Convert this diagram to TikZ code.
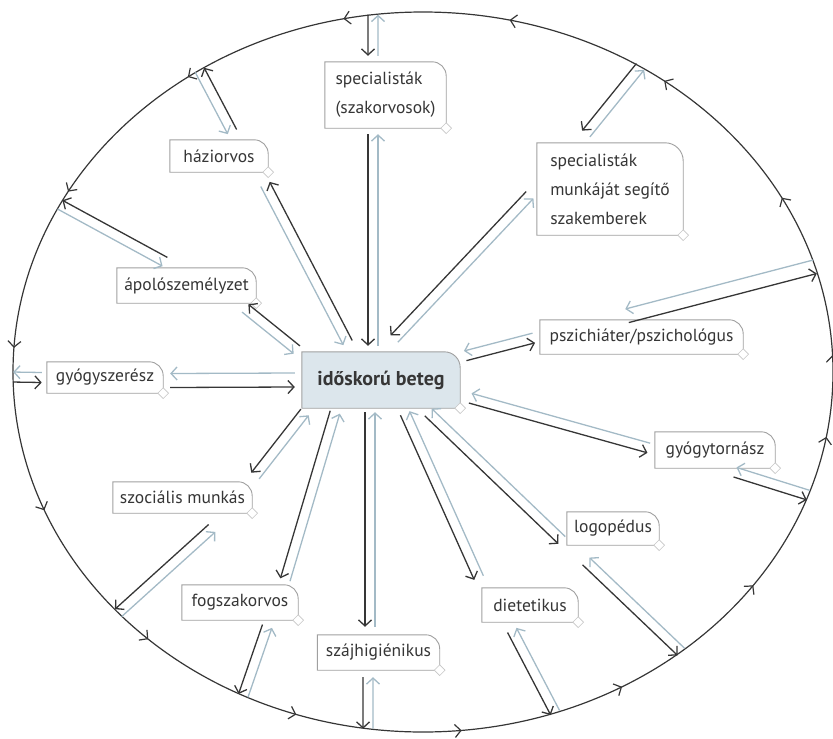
\documentclass[tikz,border=0pt]{standalone}
\usepackage{fontspec}
\setmainfont{PT Sans}
\usetikzlibrary{calc,arrows.meta,shapes.geometric,backgrounds,decorations.markings}

\definecolor{inkdark}{HTML}{363636}
\definecolor{inklight}{HTML}{A3BAC6}
\definecolor{framegray}{HTML}{A0A0A0}
\definecolor{patientfill}{HTML}{DCE6EC}

\tikzset{
  box/.style={inner sep=0pt, text=inkdark, font=\fontsize{17.5}{29}\selectfont, align=left},
  frame/.style={draw=framegray, line width=0.9pt, fill=white},
  tag/.style={diamond, draw=framegray!60, fill=white, line width=0.6pt, minimum size=11pt, inner sep=0pt},
  dk/.style={draw=inkdark, line width=1.3pt, -{Straight Barb[length=6pt,width=13pt]}},
  lt/.style={draw=inklight, line width=1.3pt, -{Straight Barb[length=6pt,width=13pt]}},
  ring/.style={draw=inkdark, line width=1.2pt, postaction={decorate},
    decoration={markings, mark=between positions 0.007 and 1 step 0.069 with {\arrow{Straight Barb[length=6pt,width=13pt]}}}}
}

% dark arrow #2 -> #3, light arrow back, each on its own right side
\newcommand\twoway[3][5]{%
  \draw[dk] ($(#2)!#1pt!-90:(#3)$) -- ($(#3)!#1pt!90:(#2)$);
  \draw[lt] ($(#3)!#1pt!-90:(#2)$) -- ($(#2)!#1pt!90:(#3)$);
}

\begin{document}
\begin{tikzpicture}[x=1pt,y=-1pt]
\useasboundingbox (0,0) rectangle (833,739);

\coordinate (o) at (423,372);
\draw[ring] (o) ++(410,0) arc[start angle=0,end angle=-360,x radius=410,y radius=360];

\node[box,font=\fontsize{20}{24}\selectfont\bfseries,minimum width=158pt,minimum height=56pt] (beteg) at (381,380) {időskorú beteg};

\node[box,minimum width=121pt,minimum height=66pt] (spec) at (385.5,95) {specialisták\\(szakorvosok)};
\node[box,minimum width=98pt,minimum height=32pt] (hazi) at (219,156) {háziorvos};
\node[box,minimum width=146pt,minimum height=92pt] (segito) at (610,189) {specialisták\\munkáját segítő\\szakemberek};
\node[box,minimum width=139pt,minimum height=35pt] (apolo) at (186.5,285.5) {ápolószemélyzet};
\node[box,minimum width=203pt,minimum height=34pt] (pszi) at (641.5,337) {pszichiáter/pszichológus};
\node[box,minimum width=116pt,minimum height=31pt] (gyszer) at (105,377.5) {gyógyszerész};
\node[box,minimum width=120pt,minimum height=36pt] (torna) at (715,450) {gyógytornász};
\node[box,minimum width=139pt,minimum height=31pt] (szoc) at (182.5,497.5) {szociális munkás};
\node[box,minimum width=92pt,minimum height=33pt] (logo) at (613,528.5) {logopédus};
\node[box,minimum width=116pt,minimum height=35pt] (fog) at (240,602.5) {fogszakorvos};
\node[box,minimum width=96pt,minimum height=34pt] (diet) at (530,605) {dietetikus};
\node[box,minimum width=122pt,minimum height=35pt] (szaj) at (378.5,652.5) {szájhigiénikus};

\begin{scope}[on background layer]
\draw[frame,fill=patientfill] (beteg.south east) -- (beteg.south west) -- (beteg.north west) -- ([xshift=-16pt]beteg.north east)
  .. controls ([xshift=-7pt]beteg.north east) and ([yshift=-7pt]beteg.north east) .. ([yshift=-16pt]beteg.north east) -- cycle;
\node[tag] (beteg-tag) at (beteg.south east) {};
\foreach \n/\rad in {spec/14,hazi/14,segito/18,apolo/14,pszi/14,gyszer/14,torna/14,szoc/14,logo/14,fog/14,diet/14,szaj/14} {
  \draw[frame] (\n.south east) -- (\n.south west) -- (\n.north west) -- ([xshift=-\rad pt]\n.north east)
    .. controls ([xshift=-0.45*\rad pt]\n.north east) and ([yshift=-0.45*\rad pt]\n.north east) .. ([yshift=-\rad pt]\n.north east) -- cycle;
  \node[tag] (\n-tag) at (\n.south east) {};
}
\end{scope}

\coordinate (rim-spec) at ($(o)+(-97:410 and 360)$);
\coordinate (rim-hazi) at ($(o)+(-123:410 and 360)$);
\coordinate (rim-segito) at ($(o)+(-58:410 and 360)$);
\coordinate (rim-apolo) at ($(o)+(-152.3:410 and 360)$);
\coordinate (rim-gyszer) at ($(o)+(-180.8:410 and 360)$);
\coordinate (rim-pszi) at ($(o)+(-17:410 and 360)$);
\coordinate (rim-torna) at ($(o)+(20:410 and 360)$);
\coordinate (rim-szoc) at ($(o)+(-222:410 and 360)$);
\coordinate (rim-fog) at ($(o)+(-244:410 and 360)$);
\coordinate (rim-szaj) at ($(o)+(-262.3:410 and 360)$);
\coordinate (rim-diet) at ($(o)+(-288.8:410 and 360)$);
\coordinate (rim-logo) at ($(o)+(-309:410 and 360)$);

% inward
\twoway{[shift={(-12.5,6)}]spec.south}{[shift={(-8,-6)}]beteg.north}
\twoway{rim-spec}{[shift={(-12.5,-6)}]spec.north}
\twoway{[shift={(-7,6)}]segito.west}{[shift={(-66,-13)}]beteg.north east}
\twoway{rim-segito}{[shift={(-24,-9)}]segito.north}
\twoway[7]{[shift={(7,3)}]gyszer.east}{[shift={(-7,0)}]beteg.west}
\twoway{rim-gyszer}{[shift={(-5,0)}]gyszer.west}

% outward
\twoway{[shift={(46,-9)}]beteg.north west}{[shift={(-3,12)}]hazi.south east}
\twoway{[shift={(-36,-8)}]hazi.north east}{rim-hazi}
\twoway{[shift={(-5,-2)}]beteg.north west}{[shift={(-11,5)}]apolo.south east}
\twoway{[shift={(-21.5,-6)}]apolo.north}{rim-apolo}
\twoway{[shift={(5,4)}]beteg.north east}{[shift={(-6,1)}]pszi.west}
\twoway[7]{[shift={(-14.5,-4)}]pszi.north}{rim-pszi}
\twoway{[shift={(10,-10)}]beteg.south east}{[shift={(-6,-2)}]torna.west}
\twoway{[shift={(20,4)}]torna.south}{rim-torna}
\twoway{[shift={(3,4)}]beteg.south west}{[shift={(3,-6)}]szoc.north east}
\twoway{[shift={(29.5,15)}]szoc.south}{rim-szoc}
\twoway{[shift={(-46,4)}]beteg.south}{[shift={(-13,-5)}]fog.north east}
\twoway{[shift={(-31,6)}]fog.south east}{rim-fog}
\twoway{[shift={(-11,4)}]beteg.south}{[shift={(-8.5,-8)}]szaj.north}
\twoway{[shift={(-10.5,7)}]szaj.south}{rim-szaj}
\twoway{[shift={(24,5)}]beteg.south}{[shift={(-3,-10)}]diet.north west}
\twoway{[shift={(-18,8)}]diet.south}{rim-diet}
\twoway{[shift={(-32,4)}]beteg.south east}{[shift={(-5,-5)}]logo.south west}
\twoway{[shift={(-27,16)}]logo.south}{rim-logo}

\end{tikzpicture}
\end{document}
